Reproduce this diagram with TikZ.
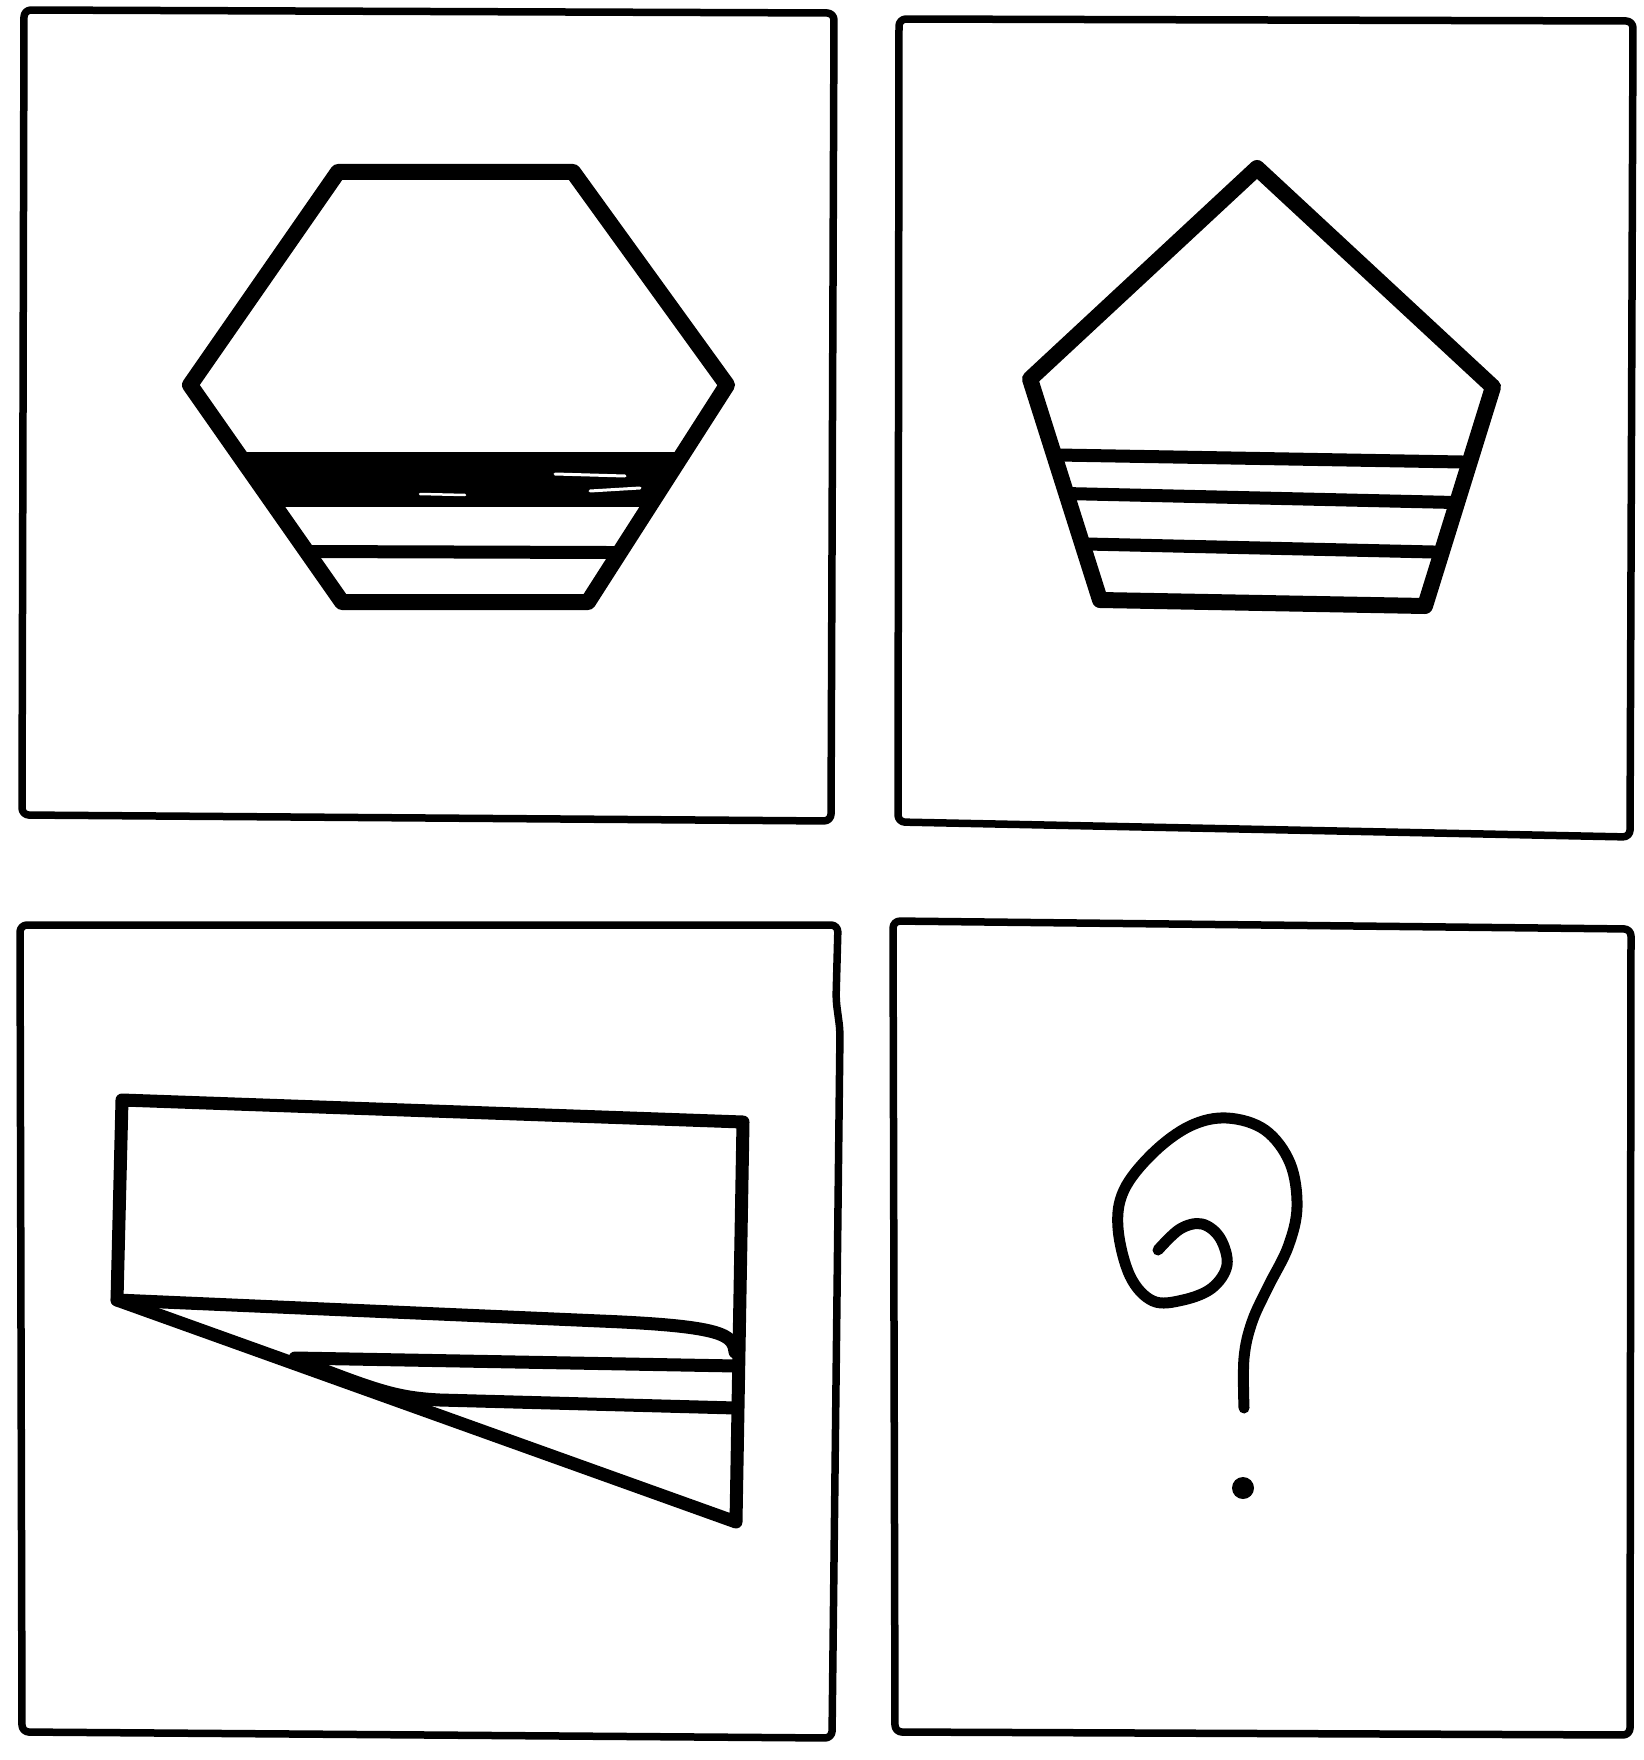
\documentclass[tikz,border=0pt]{standalone}
\begin{document}
\begin{tikzpicture}[x=1pt,y=-1pt,
  frame/.style={line width=7.5pt,rounded corners=7pt,line join=round},
  shapeline/.style={line width=16pt,line join=round,line cap=round},
  stripe/.style={line width=13pt,line cap=round},
  inkline/.style={line width=13pt,line cap=round,line join=round}]
\useasboundingbox (0,0) rectangle (1643,1760);
% frames
\draw[frame] (24,10) -- (834,13) -- (831,821) -- (22,815) -- cycle;
\draw[frame] (899,19) -- (1633,21) -- (1630,837) -- (898,822) -- cycle;
\draw[frame] (20,925) -- (838,925) -- (836,1000) -- (840,1030) -- (832,1738) -- (22,1732) -- cycle;
\draw[frame] (893,921) -- (1631,929) -- (1630,1735) -- (895,1732) -- cycle;
% hexagon
\begin{scope}
\clip (338,172) -- (573,172) -- (727,385) -- (588,602) -- (342,602) -- (190,385) -- cycle;
\fill (150,452) -- (760,452) -- (760,507) -- (150,507) -- cycle;
\draw[stripe] (150,551) -- (760,553);
\end{scope}
\draw[white,line width=3pt,line cap=round] (555,474) -- (625,476);
\draw[white,line width=3pt,line cap=round] (590,491) -- (640,488);
\draw[white,line width=2.5pt,line cap=round] (420,494) -- (465,495);
\draw[shapeline] (338,172) -- (573,172) -- (727,385) -- (588,602) -- (342,602) -- (190,385) -- cycle;
% pentagon
\begin{scope}
\clip (1257,168) -- (1493,387) -- (1425,606) -- (1100,600) -- (1030,379) -- cycle;
\draw[stripe] (1000,454) -- (1520,463);
\draw[stripe] (1000,492) -- (1520,504);
\draw[stripe] (1000,542) -- (1520,554);
\end{scope}
\draw[shapeline] (1257,168) -- (1493,387) -- (1425,606) -- (1100,600) -- (1030,379) -- cycle;
% rectangle with triangle
\draw[inkline] (122,1100) -- (743,1122) -- (736,1522) -- (117,1300) -- cycle;
\draw[inkline] (117,1300) -- (600,1321) .. controls (725,1326) and (733,1335) .. (735,1352);
\draw[inkline] (295,1358) -- (737,1366);
\draw[inkline] (313,1366) .. controls (380,1392) and (400,1398) .. (440,1400) -- (736,1408);
% question mark
\draw[line width=11pt,line cap=round,line join=round]
  plot[smooth,tension=0.6] coordinates {(1158,1250) (1180,1229) (1202,1224) (1220,1238) (1227,1265) (1212,1288) (1183,1300) (1153,1301) (1130,1276) (1118,1228) (1124,1190) (1153,1153) (1190,1126) (1227,1118) (1265,1130) (1290,1163) (1297,1207) (1288,1247) (1268,1287) (1252,1322) (1244,1358) (1244,1408)};
\fill (1243,1488) circle (11pt);
\end{tikzpicture}
\end{document}
